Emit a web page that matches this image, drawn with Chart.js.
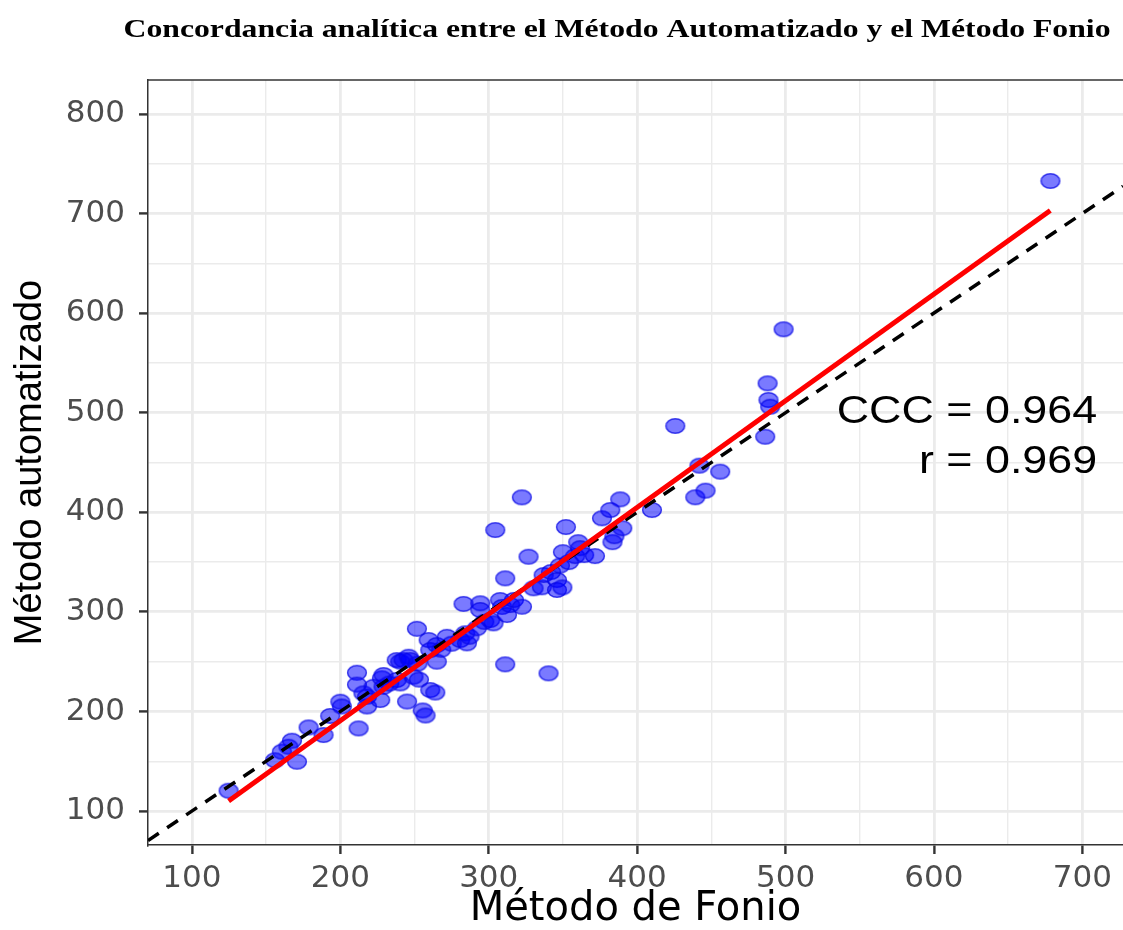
<!DOCTYPE html>
<html>
<head>
<meta charset="utf-8">
<script src="https://cdn.jsdelivr.net/npm/chart.js@4.4.0/dist/chart.umd.min.js"></script>
<style>
  html, body { margin: 0; padding: 0; background: #fff; overflow: hidden; }
  #wrap { width: 1123px; height: 930px; position: relative; }
</style>
</head>
<body>
<div id="wrap"><canvas id="ccc"></canvas></div>
<script>
// values
const fonio = [124.7, 156, 160.6, 165, 167.4, 170.8, 178.6, 188.7, 193.2, 200, 201, 211.2, 211.2, 212.3, 215.6, 218, 218,
  222.4, 226.9, 228, 229.1, 229.1, 233, 238, 238, 240.4, 240.4, 242.6, 245, 246, 247.1, 249.3, 251.6, 252, 253, 255.5,
  257.4, 259.5, 260.6, 260.6, 264, 265, 265, 268, 271.8, 275, 280.8, 283, 284.2, 285.3, 287, 292, 294.3, 294.3, 297,
  301, 303.2, 304.4, 307.7, 309, 311.1, 311.1, 312.3, 314.5, 317, 322.3, 322.4, 326.8, 330.2, 335.8, 337, 340.3, 342,
  346, 346, 348, 349.6, 350, 352, 354, 358.3, 360.3, 361.6, 364.3, 371.6, 376.3, 381.9, 383.4, 384.7, 388.6, 390, 410,
  425.7, 439.2, 442, 446.1, 456, 486.3, 487.9, 488.5, 489.7, 498.7, 678.5];
const automatizado = [120.4, 151, 159.6, 164.6, 170.6, 149.5, 184, 176.3, 195.5, 209.8, 205, 238.9, 227, 183, 218.2, 205, 214.8,
  224.8, 211.5, 233.3, 224.8, 236.6, 228, 251.6, 231.6, 250, 228.2, 251.6, 210, 255, 251.6, 234.9, 283, 248, 232, 201,
  196, 271.7, 261.7, 221.5, 219, 250, 266.7, 262, 275, 268, 271.7, 308, 278.5, 268.4, 275, 283.5, 308.6, 301.9, 290,
  291.8, 288.5, 382.2, 311.9, 305, 333.7, 247.3, 296.8, 306.9, 312, 415, 305.2, 355.4, 323.7, 324.7, 337, 238.3, 340,
  332, 322, 346.5, 324.6, 360, 385.2, 350, 356, 370, 364, 357, 356, 394, 402.3, 370, 376, 413, 384, 402.3,
  486.7, 415.1, 446.8, 421.7, 440.8, 475.9, 529.5, 512.8, 506, 583.8, 732.7];

// fitted line ends and identity line ends
const regX = [124.7, 678.4];
const regY = [110, 703];
const idX = [70.4, 727.4];
const idY = [70.4, 727.4];

const xTicks = [100, 150, 200, 250, 300, 350, 400, 450, 500, 550, 600, 650, 700];
const yTicks = [100, 150, 200, 250, 300, 350, 400, 450, 500, 550, 600, 650, 700, 750, 800];

const annoLines = ['CCC = 0.964', 'r = 0.969'];
const annoX = 710;
const annoY = [500, 450];

const titleText = 'Concordancia analítica entre el Método Automatizado y el Método Fonio';

// slightly wide ellipse for the points, like the picture
function dot() {
  const c = document.createElement('canvas');
  c.width = 22; c.height = 18;
  const g = c.getContext('2d');
  g.beginPath();
  g.ellipse(11, 9, 9.4, 7.3, 0, 0, Math.PI * 2);
  g.fillStyle = 'rgba(0,0,255,0.52)';
  g.fill();
  g.lineWidth = 1.5;
  g.strokeStyle = 'rgba(10,10,230,0.75)';
  g.stroke();
  return c;
}

const pts = fonio.map((v, i) => ({ x: v, y: automatizado[i] }));
const reg = regX.map((v, i) => ({ x: v, y: regY[i] }));
const ident = idX.map((v, i) => ({ x: v, y: idY[i] }));

const isMajor = v => v % 100 === 0;

const extras = {
  id: 'extras',
  afterDraw(chart) {
    const ctx = chart.ctx;
    const a = chart.chartArea;
    ctx.save();
    // top frame line
    ctx.strokeStyle = '#333';
    ctx.lineWidth = 1.5;
    ctx.beginPath();
    ctx.moveTo(a.left, a.top);
    ctx.lineTo(a.right, a.top);
    ctx.stroke();

    // title
    ctx.fillStyle = '#000';
    ctx.font = 'bold 26px "Liberation Serif", "Times New Roman", serif';
    ctx.textAlign = 'center';
    ctx.textBaseline = 'middle';
    ctx.translate(617, 30);
    ctx.scale(1.22, 1);
    ctx.fillText(titleText, 0, 0);
    ctx.restore();

    // CCC / r text
    ctx.save();
    ctx.fillStyle = '#000';
    ctx.font = '38px "Liberation Sans", Arial, sans-serif';
    ctx.textAlign = 'right';
    ctx.textBaseline = 'middle';
    annoLines.forEach((t, i) => {
      const px = chart.scales.x.getPixelForValue(annoX);
      const py = chart.scales.y.getPixelForValue(annoY[i]);
      ctx.save();
      ctx.translate(px, py);
      ctx.scale(1.18, 1);
      ctx.fillText(t, 0, 0);
      ctx.restore();
    });
    ctx.restore();
  }
};

const tickFont = { family: '"DejaVu Sans", sans-serif', size: 31 };

new Chart(document.getElementById('ccc'), {
  type: 'scatter',
  data: {
    datasets: [
      {
        data: pts,
        pointStyle: dot(),
        pointRadius: 9,
        pointHoverRadius: 9,
        order: 3
      },
      {
        data: ident,
        showLine: true,
        borderColor: '#000',
        borderWidth: 3.5,
        borderDash: [13, 10],
        pointRadius: 0,
        order: 2
      },
      {
        data: reg,
        showLine: true,
        borderColor: '#ff0000',
        borderWidth: 5,
        pointRadius: 0,
        order: 1
      }
    ]
  },
  options: {
    responsive: true,
    maintainAspectRatio: false,
    animation: false,
    events: [],
    layout: { autoPadding: false, padding: { top: 80, left: 0, right: 0, bottom: 0 } },
    plugins: {
      legend: { display: false },
      tooltip: { enabled: false },
      title: { display: false }
    },
    scales: {
      x: {
        type: 'linear',
        min: 70.4,
        max: 727.4,
        afterBuildTicks: s => { s.ticks = xTicks.map(v => ({ value: v })); },
        afterFit: s => { s.height = 85; s.paddingLeft = 0; s.paddingRight = 0; },
        border: { display: true, color: '#333', width: 1.5 },
        grid: {
          color: '#ebebeb',
          lineWidth: c => isMajor(c.tick.value) ? 2.8 : 1.4,
          tickLength: 9,
          tickColor: c => isMajor(c.tick.value) ? '#333' : 'rgba(0,0,0,0)',
          tickWidth: 2.4
        },
        ticks: {
          autoSkip: false,
          maxRotation: 0,
          color: '#4d4d4d',
          font: tickFont,
          padding: 6,
          callback: v => isMajor(v) ? String(v) : ''
        },
        title: {
          display: true,
          text: 'Método de Fonio',
          color: '#000',
          font: { family: '"DejaVu Sans", sans-serif', size: 40, lineHeight: 1.0 },
          padding: { top: 0, bottom: 0 }
        }
      },
      y: {
        type: 'linear',
        min: 65.9,
        max: 834.1,
        afterBuildTicks: s => { s.ticks = yTicks.map(v => ({ value: v })); },
        afterFit: s => { s.width = 148; s.paddingTop = 0; s.paddingBottom = 0; },
        border: { display: true, color: '#333', width: 1.5 },
        grid: {
          color: '#ebebeb',
          lineWidth: c => isMajor(c.tick.value) ? 2.8 : 1.4,
          tickLength: 9,
          tickColor: c => isMajor(c.tick.value) ? '#333' : 'rgba(0,0,0,0)',
          tickWidth: 2.4
        },
        ticks: {
          autoSkip: false,
          color: '#4d4d4d',
          font: tickFont,
          padding: 14,
          callback: v => isMajor(v) ? String(v) : ''
        },
        title: {
          display: true,
          text: 'Método automatizado',
          color: '#000',
          font: { family: '"Liberation Sans", Arial, sans-serif', size: 38 },
          padding: { top: 8, bottom: 0 }
        }
      }
    }
  },
  plugins: [extras]
});
</script>
</body>
</html>
